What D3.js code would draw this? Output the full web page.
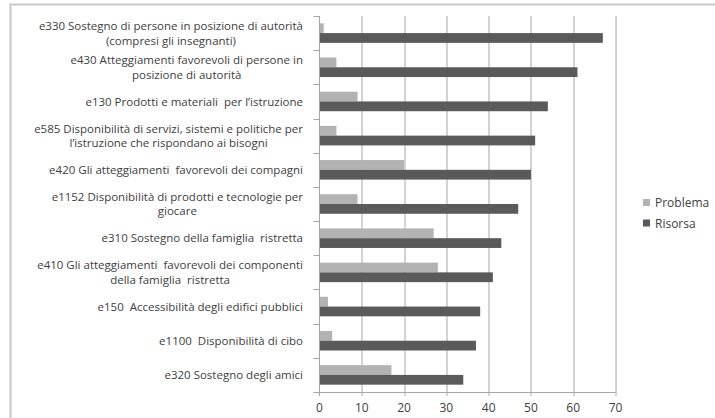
<!DOCTYPE html>
<html>
<head>
<meta charset="utf-8">
<script src="https://cdn.jsdelivr.net/npm/d3@7"></script>
<style>
  body { margin: 0; background: #fff; }
  svg text { font-family: "Open Sans", sans-serif; fill: #404040; white-space: pre; }
</style>
</head>
<body>
<div id="chart"></div>
<script>
// categories, top to bottom
var categories = [
  ["e330 Sostegno di persone in posizione di autorità", "(compresi gli insegnanti)"],
  ["e430 Atteggiamenti favorevoli di persone in", "posizione di autorità"],
  ["e130 Prodotti e materiali  per l\u2019istruzione"],
  ["e585 Disponibilità di servizi, sistemi e politiche per", "l\u2019istruzione che rispondano ai bisogni"],
  ["e420 Gli atteggiamenti  favorevoli dei compagni"],
  ["e1152 Disponibilità di prodotti e tecnologie per", "giocare"],
  ["e310 Sostegno della famiglia  ristretta"],
  ["e410 Gli atteggiamenti  favorevoli dei componenti", "della famiglia  ristretta"],
  ["e150  Accessibilità degli edifici pubblici"],
  ["e1100  Disponibilità di cibo"],
  ["e320 Sostegno degli amici"]
];
var problema = [1, 4, 9, 4, 20, 9, 27, 28, 2, 3, 17];
var risorsa = [67, 61, 54, 51, 50, 47, 43, 41, 38, 37, 34];
var seriesNames = ["Problema", "Risorsa"];
var seriesColors = ["#b3b3b3", "#5a5a5a"];
var xTicks = [0, 10, 20, 30, 40, 50, 60, 70];

var width = 715, height = 418;
var margin = {left: 319.5, right: 99.5, top: 16, bottom: 26};
var w = width - margin.left - margin.right;
var h = height - margin.top - margin.bottom;

var svg = d3.select("#chart").append("svg")
  .attr("width", width)
  .attr("height", height);

// chart border
svg.append("rect")
  .attr("x", 10.5).attr("y", 4.5)
  .attr("width", 720).attr("height", 430)
  .attr("fill", "none")
  .attr("stroke", "#c8c8c8")
  .attr("stroke-width", 2);

var g = svg.append("g")
  .attr("transform", "translate(" + margin.left + "," + margin.top + ")");

var idx = d3.range(categories.length);
var x = d3.scaleLinear().domain([0, 70]).range([0, w]);
var y = d3.scaleBand().domain(idx).range([0, h]).paddingInner(0).paddingOuter(0);
var inner = d3.scaleBand().domain([0, 1]).range([0, y.bandwidth()])
  .paddingInner(0).paddingOuter(0.75);

// gridlines
g.selectAll("line.grid").data(xTicks.slice(1)).enter()
  .append("line")
  .attr("class", "grid")
  .attr("x1", d => Math.round(x(d)) + 0.5)
  .attr("x2", d => Math.round(x(d)) + 0.5)
  .attr("y1", 0).attr("y2", h + 4)
  .attr("stroke", "#a6a6a6");

// bars
var data = [problema, risorsa];
data.forEach((vals, s) => {
  g.selectAll("rect.s" + s).data(vals).enter()
    .append("rect")
    .attr("class", "s" + s)
    .attr("x", 0)
    .attr("y", (d, i) => y(i) + inner(s))
    .attr("width", d => x(d))
    .attr("height", inner.bandwidth())
    .attr("fill", seriesColors[s]);
});

// left axis line and ticks at category boundaries
g.append("line")
  .attr("x1", 0).attr("x2", 0).attr("y1", 0).attr("y2", h + 4)
  .attr("stroke", "#a6a6a6");
g.selectAll("line.ytick").data(d3.range(categories.length + 1)).enter()
  .append("line")
  .attr("class", "ytick")
  .attr("x1", -6).attr("x2", 0)
  .attr("y1", d => Math.round(d * y.step()) + 0.5)
  .attr("y2", d => Math.round(d * y.step()) + 0.5)
  .attr("stroke", "#a6a6a6");
g.append("line")
  .attr("x1", -6).attr("x2", w)
  .attr("y1", h + 0.5).attr("y2", h + 0.5)
  .attr("stroke", "#a6a6a6");

// x tick labels
g.selectAll("text.xt").data(xTicks).enter()
  .append("text")
  .attr("class", "xt")
  .attr("x", d => x(d))
  .attr("y", h + 20)
  .attr("text-anchor", "middle")
  .attr("font-size", "12px")
  .text(d => d);

// category labels (wrapped lines centered, block right aligned)
var lineH = 14.5;
var labelRight = -16.5;
categories.forEach((lines, i) => {
  var lg = g.append("g");
  var cy = y(i) + y.bandwidth() / 2;
  var texts = lines.map((t, k) => lg.append("text")
    .attr("y", cy + (k - (lines.length - 1) / 2) * lineH + 4.2)
    .attr("font-size", "11.5px")
    .attr("text-anchor", "middle")
    .text(t));
  var maxW = d3.max(texts, t => t.node().getComputedTextLength());
  texts.forEach(t => t.attr("x", labelRight - maxW / 2));
});

// legend
var legend = svg.append("g").attr("transform", "translate(643,199)");
seriesNames.forEach((n, i) => {
  legend.append("rect")
    .attr("x", 0).attr("y", i * 20.5)
    .attr("width", 7).attr("height", 7)
    .attr("fill", seriesColors[i]);
  legend.append("text")
    .attr("x", 12).attr("y", i * 20.5 + 8)
    .attr("font-size", "12px")
    .text(n);
});
</script>
</body>
</html>
